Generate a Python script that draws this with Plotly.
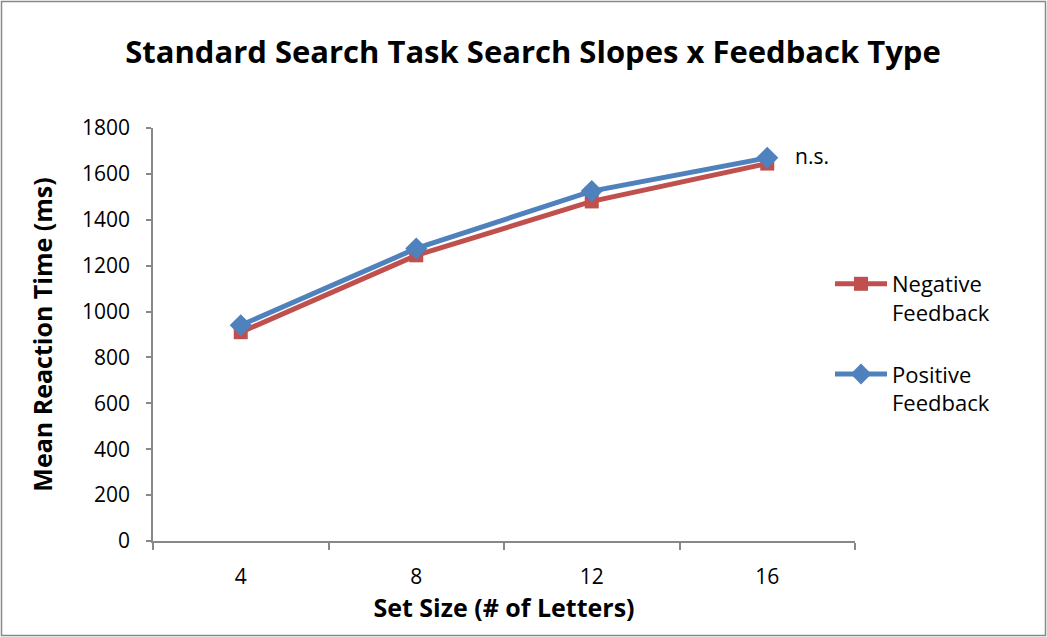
import plotly.graph_objects as go

categories = ["4", "8", "12", "16"]
negative = [910, 1245, 1480, 1645]
positive = [940, 1275, 1525, 1670]
y_ticks = [0, 200, 400, 600, 800, 1000, 1200, 1400, 1600, 1800]

RED = "#C0504D"
BLUE = "#4F81BD"
FONT = "Open Sans"

fig = go.Figure()
fig.add_trace(go.Scatter(
    x=categories, y=negative, name="Negative<br>Feedback", mode="lines+markers",
    legendgroup="neg",
    line=dict(color=RED, width=5), marker=dict(symbol="square", size=14, color=RED)))
fig.add_trace(go.Scatter(
    x=categories, y=positive, name="Positive<br>Feedback", mode="lines+markers",
    legendgroup="pos",
    line=dict(color=BLUE, width=5), marker=dict(symbol="diamond", size=17, color=BLUE)))

W, H = 1047, 637
L, R, T, B = 153, 192, 128, 96
pw, ph = W - L - R, H - T - B

fig.add_annotation(x=categories.index("16"), y=positive[3], text="n.s.", showarrow=False,
                   xanchor="left", yanchor="middle", xshift=26, yshift=2,
                   font=dict(size=21, color="black", family=FONT))

fig.add_shape(type="rect", xref="paper", yref="paper",
              x0=(1.5 - L) / pw, x1=(W - 1.5 - L) / pw,
              y0=-(H - 1.5 - T - ph) / ph, y1=(ph + T - 1.5) / ph,
              line=dict(color="#888888", width=1.5), fillcolor="rgba(0,0,0,0)")

fig.update_layout(
    width=W, height=H,
    margin=dict(l=L, r=R, t=T, b=B),
    paper_bgcolor="white", plot_bgcolor="white",
    font=dict(family=FONT, color="black", size=20),
    title=dict(text="<b>Standard Search Task Search Slopes x Feedback Type</b>",
               x=533 / W, xanchor="center", y=1 - 52 / H, yanchor="middle",
               font=dict(size=31, family=FONT, color="black")),
    showlegend=True,
    legend=dict(x=(830 - L) / pw, xanchor="left", y=(541 - 263) / ph, yanchor="top",
                font=dict(size=22, family=FONT), tracegroupgap=30,
                traceorder="grouped", valign="top",
                bgcolor="rgba(0,0,0,0)", itemwidth=52),
    xaxis=dict(type="category", range=[-0.5, 3.5], tickson="boundaries",
               ticks="outside", ticklen=7, tickcolor="#888888", tickwidth=1.5,
               showline=True, linecolor="#888888", linewidth=1.5, showgrid=False,
               zeroline=False, ticklabelstandoff=16,
               tickfont=dict(size=21, family=FONT),
               title=dict(text="<b>Set Size (# of Letters)</b>", standoff=5,
                          font=dict(size=25, family=FONT))),
    yaxis=dict(range=[0, 1800], tickvals=y_ticks, ticks="outside", ticklen=5,
               tickcolor="#888888", tickwidth=1.5, showline=True,
               linecolor="#888888", linewidth=1.5, showgrid=False, zeroline=False,
               ticklabelstandoff=12, tickfont=dict(size=21, family=FONT),
               title=dict(text="<b>Mean Reaction Time (ms)</b>", standoff=22,
                          font=dict(size=25, family=FONT))),
)

fig.write_html("out.html", config={"displayModeBar": False},
               post_script="document.body.style.margin='0';")
